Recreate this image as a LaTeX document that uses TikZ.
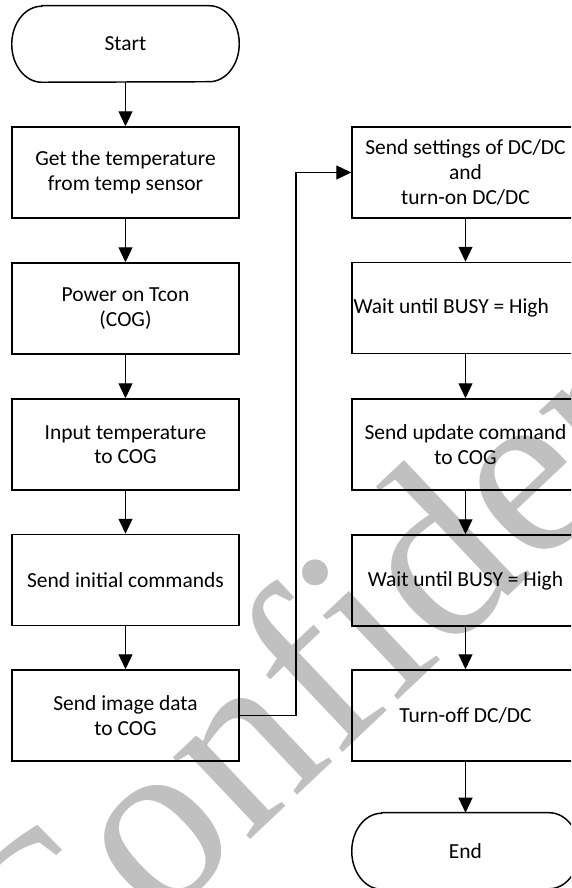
\documentclass[tikz,border=0pt]{standalone}
\usepackage{fontspec}
\setmainfont{Carlito}
\newfontfamily\wmfont{Liberation Serif}
\usetikzlibrary{arrows.meta}
\definecolor{wmgray}{RGB}{192,192,192}
\tikzset{
  px/.style={x=0.75pt,y=0.75pt},
  txt/.style={font=\fontsize{16.1}{18.4}\selectfont, align=center, inner sep=0pt},
  stepbox/.style={txt, draw, line width=1.1pt, minimum width=170.25pt, minimum height=68.25pt},
  termnode/.style={txt, minimum width=170.25pt, minimum height=57pt},
  termline/.style={draw, line width=1.1pt},
  flow/.style={line width=0.9pt, -{Triangle[length=11.25pt,width=10.5pt]}}
}
\begin{document}
\begin{tikzpicture}[px]
\useasboundingbox (0,0) rectangle (571,888);
\clip (0,0) rectangle (571,888);

% background watermark
\node[rotate=43.4, anchor=base west, inner sep=0pt, text=wmgray,
      font=\wmfont\fontsize{183.75}{183.75}\selectfont] (wm) at (38.5,-152) {Conf\kern0pt idential};

% left column
\node[termnode] (start) at (125.5,844) {Start};
\node[stepbox] (b1) at (125.5,715.5) {Get the temperature\\from temp sensor};
\node[stepbox] (b2) at (125.5,579.5) {Power on Tcon\\(COG)};
\node[stepbox] (b3) at (125.5,443.5) {Input temperature\\to COG};
\node[stepbox] (b4) at (125.5,308) {Send initial commands};
\node[stepbox] (b5) at (125.5,172.5) {Send image data\\to COG};

% right column
\node[stepbox] (r1) at (465.5,715.5) {Send settings of DC/DC\\and\\turn-on DC/DC};
\node[stepbox] (r2) at (465.5,580) {};
\node[txt, anchor=west] (r2t) at ([xshift=1.5pt]r2.west) {Wait until BUSY = High};
\node[stepbox] (r3) at (465.5,443.5) {Send update command\\to COG};
\node[stepbox] (r4) at (465.5,307.5) {Wait until BUSY = High};
\node[stepbox] (r5) at (465.5,172.5) {Turn-off DC/DC};
\node[termnode] (end) at (465.5,37) {End};

% terminal outlines with elliptic ends
\foreach \t in {start,end}{
  \draw[termline] ([xshift=22.5pt]\t.north west) -- ([xshift=-22.5pt]\t.north east)
    arc[start angle=90,end angle=-90,x radius=22.5pt,y radius=28.5pt]
    -- ([xshift=22.5pt]\t.south west)
    arc[start angle=270,end angle=90,x radius=22.5pt,y radius=28.5pt] -- cycle;
}

% connectors
\draw[flow] (start) -- (b1);
\draw[flow] (b1) -- (b2);
\draw[flow] (b2) -- (b3);
\draw[flow] (b3) -- (b4);
\draw[flow] (b4) -- (b5);
\coordinate (bend) at (296,715.5);
\draw[flow] (b5.east) -| (bend) -- (r1.west);
\draw[flow] (r1) -- (r2);
\draw[flow] (r2) -- (r3);
\draw[flow] (r3) -- (r4);
\draw[flow] (r4) -- (r5);
\draw[flow] (r5) -- (end);
\end{tikzpicture}
\end{document}
